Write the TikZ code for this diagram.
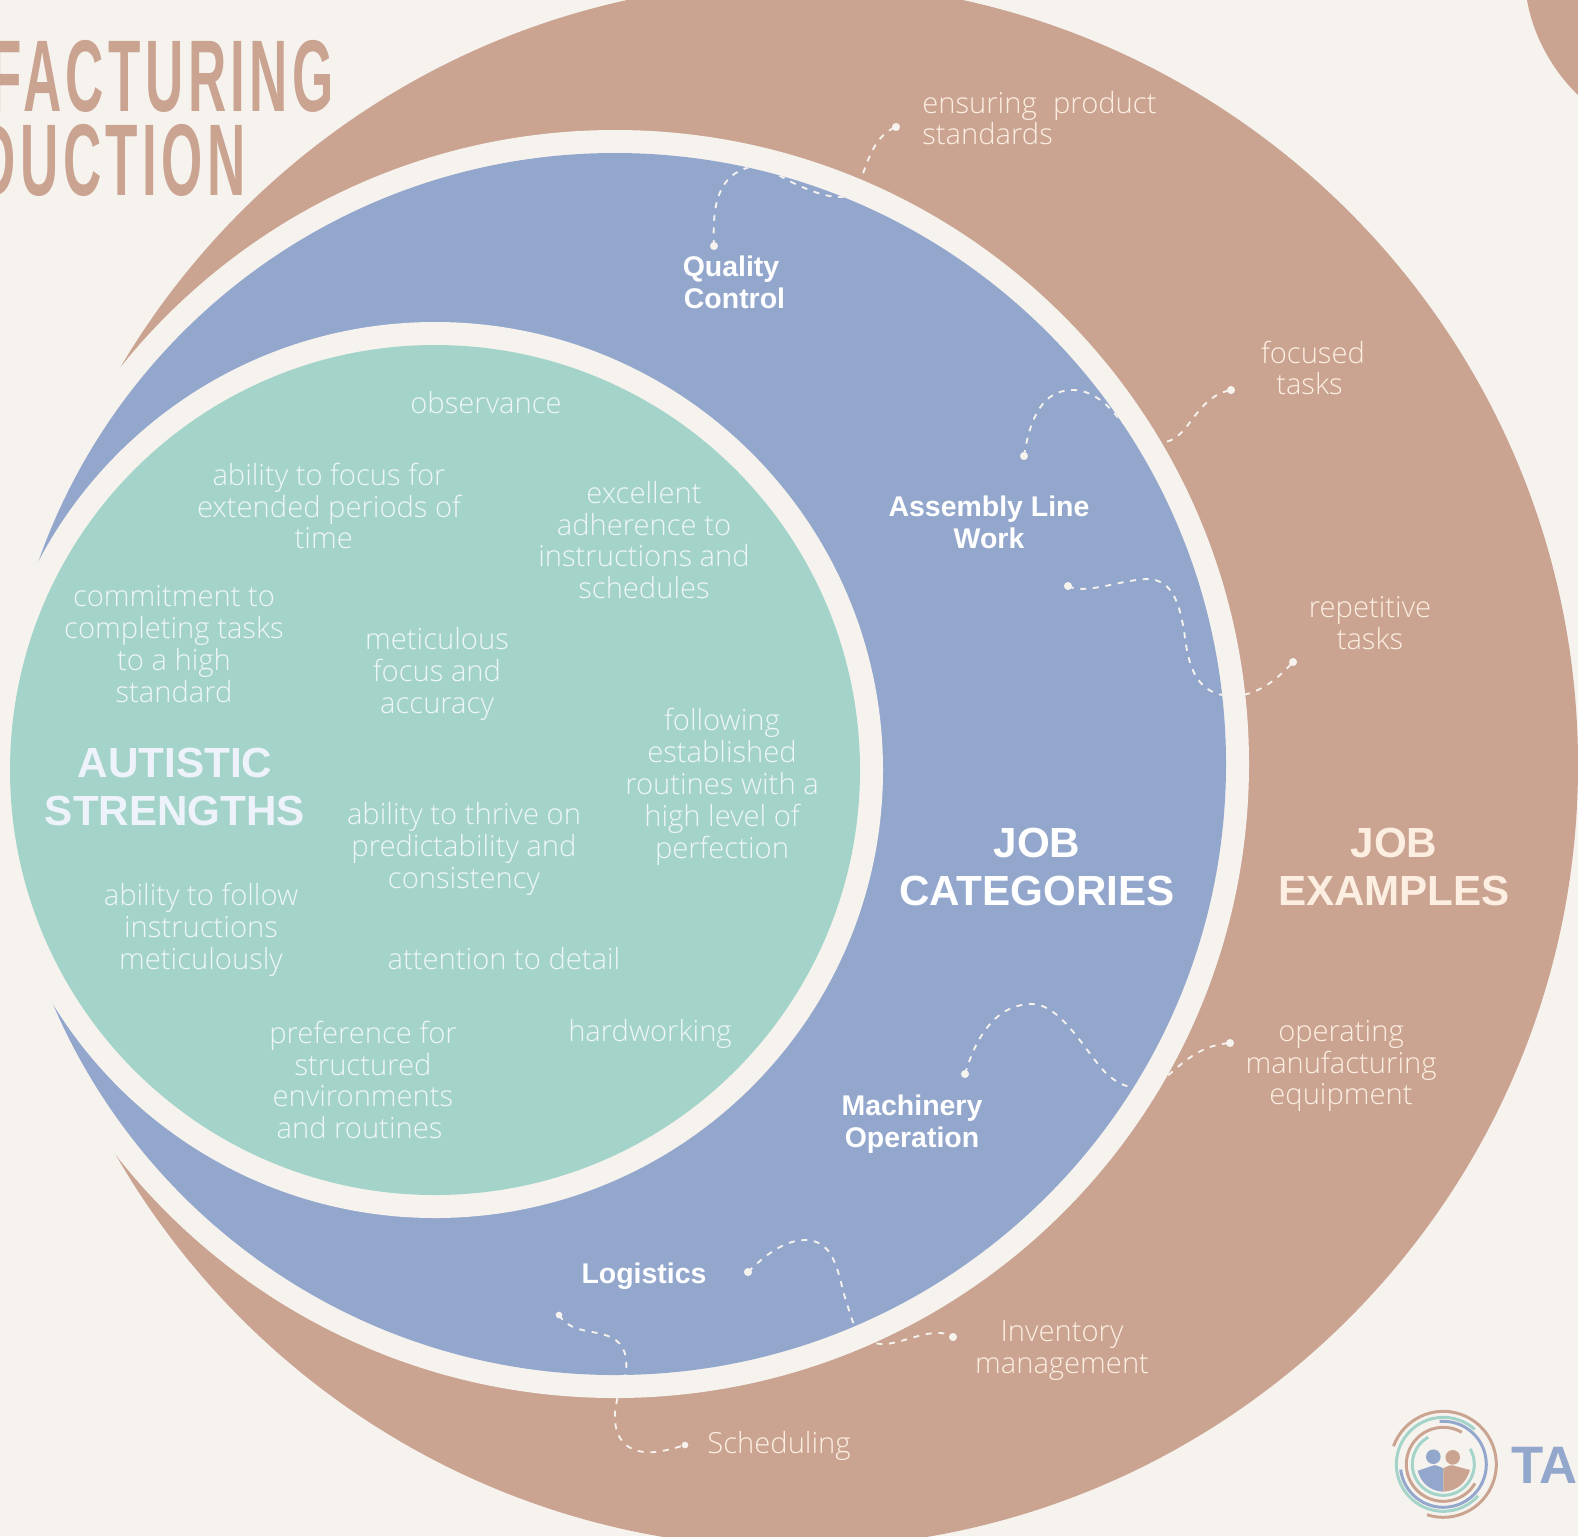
\documentclass[tikz,border=0pt]{standalone}
\usepackage{fontspec}
\setmainfont{Liberation Sans}
\newfontfamily\lightf{Open Sans Light}
\newfontfamily\boldf{Liberation Sans Bold}
\newfontfamily\titlef[FakeStretch=0.52,LetterSpace=4.3]{Liberation Sans Bold}
\definecolor{bgc}{HTML}{F6F3EE}
\definecolor{brownc}{HTML}{CAA391}
\definecolor{bluec}{HTML}{93A7CD}
\definecolor{greenc}{HTML}{A4D4C9}
\definecolor{gtext}{HTML}{EEF6F6}
\definecolor{ghead}{HTML}{EEF3FB}
\definecolor{btext}{HTML}{FCEFE2}
\pgfdeclarelayer{lay1}\pgfdeclarelayer{lay2}\pgfdeclarelayer{lay3}\pgfdeclarelayer{lay4}
\pgfsetlayers{lay1,lay2,lay3,lay4,main}
\tikzset{
  lighttext/.style={align=center,inner sep=0pt,font=\lightf\fontsize{16.6}{18.14}\selectfont},
  gtxt/.style={lighttext,text=gtext},
  btxt/.style={lighttext,text=btext},
  catlabel/.style={align=center,inner sep=0pt,text=white,font=\boldf\fontsize{16.2}{18.14}\selectfont},
  bighead/.style={align=center,inner sep=0pt,font=\boldf\fontsize{24}{27.8}\selectfont},
  title/.style={anchor=base east,inner sep=0pt,text=brownc,font=\titlef\fontsize{58}{58}\selectfont},
  dotmark/.style={circle,fill=bgc,inner sep=0pt,minimum size=4.6pt},
  conn/.style={draw=bgc,line width=1.05pt,dash pattern=on 3.4pt off 3.8pt},
  logoline/.style={line width=1.7pt}
}
\newcommand{\allconns}{%
  \path[conn] (qa.center) .. controls (712,205) and (718,175) .. (750,167)
    .. controls (762,164) and (772,172) .. (782,177)
    .. controls (800,187) and (825,198) .. (842,197)
    .. controls (852,196) and (857,190) .. (861,179)
    .. controls (868,160) and (875,135) .. (qb.center);
  \path[conn] (fa.center) .. controls (1032,405) and (1050,390) .. (1073,390)
    .. controls (1090,390) and (1105,402) .. (1115,414)
    .. controls (1128,430) and (1145,445) .. (1165,442)
    .. controls (1190,438) and (1195,397) .. (fb.center);
  \path[conn] (ra.center) .. controls (1085,595) and (1120,580) .. (1147,579)
    .. controls (1175,579) and (1180,610) .. (1184,630)
    .. controls (1188,665) and (1195,695) .. (1232,696)
    .. controls (1255,696) and (1275,682) .. (rb.center);
  \path[conn] (ma.center) .. controls (978,1030) and (1000,1004) .. (1032,1004)
    .. controls (1060,1004) and (1085,1050) .. (1103,1070)
    .. controls (1115,1083) and (1130,1090) .. (1145,1088)
    .. controls (1170,1084) and (1185,1046) .. (mb.center);
  \path[conn] (ia.center) .. controls (765,1255) and (785,1240) .. (805,1240)
    .. controls (838,1240) and (838,1280) .. (848,1307)
    .. controls (853,1325) and (860,1345) .. (885,1344)
    .. controls (905,1343) and (935,1325) .. (ib.center);
  \path[conn] (sa.center) .. controls (570,1332) and (590,1330) .. (605,1335)
    .. controls (622,1340) and (628,1352) .. (626,1372)
    .. controls (624,1385) and (619,1390) .. (617,1400)
    .. controls (610,1430) and (620,1455) .. (655,1452)
    .. controls (665,1451) and (675,1448) .. (sb.center);
}
\begin{document}
\begin{tikzpicture}[x=0.02cm,y=-0.02cm]
\useasboundingbox (0,0) rectangle (1578,1536);
\clip (0,0) rectangle (1578,1536);
% dots
\node[dotmark] (qa) at (714,246) {};
\node[dotmark] (qb) at (896,127) {};
\node[dotmark] (fa) at (1024,456) {};
\node[dotmark] (fb) at (1231,390) {};
\node[dotmark] (ra) at (1068,586) {};
\node[dotmark] (rb) at (1293,662) {};
\node[dotmark] (ma) at (965,1074) {};
\node[dotmark] (mb) at (1230,1043) {};
\node[dotmark] (ia) at (748,1272) {};
\node[dotmark] (ib) at (953,1337) {};
\node[dotmark,minimum size=3.8pt] (sa) at (559,1315) {};
\node[dotmark,minimum size=3.8pt] (sb) at (685,1445) {};
% discs
\begin{pgfonlayer}{lay1}
  \fill[bgc] (0,0) rectangle (1578,1536);
  \fill[brownc] (795,765) circle[radius=783];
  \fill[brownc] (1527,0) .. controls (1533,35) and (1552,70) .. (1578,95) -- (1578,0) -- cycle;
\end{pgfonlayer}
\begin{pgfonlayer}{lay2}
  \allconns
\end{pgfonlayer}
\begin{pgfonlayer}{lay3}
  \fill[bgc] (615,764) circle[radius=634];
  \fill[bluec] (615,764) circle[radius=611];
\end{pgfonlayer}
\begin{pgfonlayer}{lay4}
  \begin{scope}
    \clip (615,764) circle[radius=611];
    \allconns
  \end{scope}
  \fill[bgc] (435,770) circle[radius=448];
  \fill[greenc] (435,770) circle[radius=425];
\end{pgfonlayer}
% title
\node[title] (t1) at (334,111) {FACTURING};
\node[title] (t2) at (246,195) {DUCTION};
% inner texts
\node[gtxt] (n1) at (486,403) {observance};
\node[gtxt] (n2) at (329,506) {ability to focus for\\extended periods of\\time\hspace*{6pt}};
\node[gtxt] (n3) at (644,540) {excellent\\adherence to\\instructions and\\schedules};
\node[gtxt] (n4) at (174,644) {commitment to\\completing tasks\\to a high\\standard};
\node[gtxt] (n5) at (437,674) {meticulous\\focus and\\accuracy};
\node[gtxt] (n6) at (722,787) {following\\established\\routines with a\\high level of\\perfection};
\node[gtxt] (n7) at (464,849) {ability to thrive on\\predictability and\\consistency};
\node[gtxt] (n8) at (201,930) {ability to follow\\instructions\\meticulously};
\node[gtxt] (n9) at (504,959) {attention to detail};
\node[gtxt] (n10) at (363,1080) {preference for\\structured\\environments\\and routines\hspace*{4pt}};
\node[gtxt] (n11) at (650,1034) {hardworking};
\node[bighead,text=ghead] (h1) at (175,787) {AUTISTIC\\STRENGTHS};
\node[bighead,text=white] (h2) at (1037,867) {JOB\\CATEGORIES};
\node[bighead,text=btext] (h3) at (1394,867) {JOB\\EXAMPLES};
% categories
\node[catlabel] (c1) at (731,282) {Quality\\\hspace*{4pt}Control};
\node[catlabel] (c2) at (989,522) {Assembly Line\\Work};
\node[catlabel] (c3) at (912,1124) {Machinery\\Operation};
\node[catlabel] (c4) at (644,1276) {Logistics};
% examples
\node[btxt,anchor=west,align=left] (e1) at (922,118) {ensuring\hspace{5pt} product\\standards};
\node[btxt] (e2) at (1313,368) {focused\\\hspace*{-4pt}tasks};
\node[btxt] (e3) at (1370,623) {repetitive\\tasks};
\node[btxt] (e4) at (1341,1066) {operating\\manufacturing\\equipment};
\node[btxt] (e5) at (1062,1351) {Inventory\\management};
\node[btxt] (e6) at (779,1446) {Scheduling};
% logo
\coordinate (lc) at (1443.3,1464.3);
\draw[logoline,brownc] (lc) ++(160:1.06cm) arc[start angle=160,end angle=-108,radius=1.06cm];
\draw[logoline,greenc] (lc) ++(48:0.94cm) arc[start angle=48,end angle=318,radius=0.94cm];
\draw[logoline,bluec] (lc) ++(95:0.86cm) arc[start angle=95,end angle=-173,radius=0.86cm];
\draw[logoline,brownc] (lc) ++(60:0.74cm) arc[start angle=60,end angle=329,radius=0.74cm];
\draw[logoline,greenc] (lc) ++(119:0.62cm) arc[start angle=119,end angle=390,radius=0.62cm];
\fill[bluec] (1433.3,1456.7) circle[radius=7.3];
\fill[brownc] (1452.7,1457.3) circle[radius=7.3];
\fill[bluec] (1443.3,1491.7) .. controls (1430,1491) and (1421,1483) .. (1417.7,1470.7) -- (1431.7,1466) .. controls (1435,1464) and (1438,1466) .. (1443.3,1468.3) -- cycle;
\fill[brownc] (1443.3,1491.7) .. controls (1457,1491) and (1466,1483) .. (1470,1470) -- (1455,1466) .. controls (1451,1464) and (1448,1466) .. (1443.3,1468.3) -- cycle;
\node[anchor=base west,inner sep=0pt,text=bluec,font=\boldf\fontsize{30}{30}\selectfont] (ta) at (1511,1483) {TA};
\end{tikzpicture}
\end{document}
